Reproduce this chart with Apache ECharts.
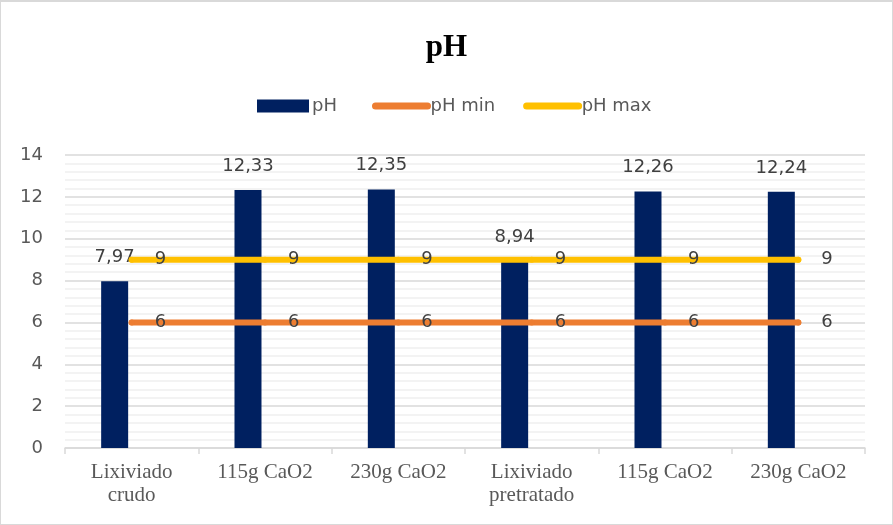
<!DOCTYPE html>
<html><head><meta charset="utf-8">
<script src="https://cdn.jsdelivr.net/npm/echarts@6/dist/echarts.min.js"></script>
<style>
html,body{margin:0;padding:0;background:#fff;}
#c{position:absolute;left:0;top:0;width:891px;height:522px;border:1px solid #d9d9d9;border-top:2px solid #d9d9d9;}
</style></head>
<body><div id="c"></div>
<script>
const categories = ['Lixiviado\ncrudo', '115g CaO2', '230g CaO2', 'Lixiviado\npretratado', '115g CaO2', '230g CaO2'];
const phValues = [7.97, 12.33, 12.35, 8.94, 12.26, 12.24];
const phMin = [6, 6, 6, 6, 6, 6];
const phMax = [9, 9, 9, 9, 9, 9];
const yTicks = { min: 0, max: 14, interval: 2 };

const fmt = p => String(p.value).replace('.', ',');
const sans = 'DejaVu Sans';
const legendText = { fontFamily: sans, fontSize: 18, color: '#595959', padding: [0,0,0,-2] };
const chart = echarts.init(document.getElementById('c'));
chart.setOption({
  animation: false,
  title: { text: 'pH', left: 'center', top: 25,
    textStyle: { fontFamily: 'Liberation Serif', fontWeight: 'bold', fontSize: 31, color: '#000' } },
  legend: [
    { left: 251, top: 90, itemWidth: 52, itemHeight: 13, textStyle: legendText,
      data: [{ name: 'pH', icon: 'rect' }] },
    { left: 366, top: 90, itemGap: 28, itemWidth: 52, itemHeight: 13, textStyle: legendText,
      lineStyle: { width: 7, cap: 'round' },
      itemStyle: { opacity: 0 },
      data: ['pH min', 'pH max'] }
  ],
  grid: { left: 64, right: 27, top: 153, bottom: 76 },
  xAxis: { type: 'category', data: categories,
    axisLine: { lineStyle: { color: '#d9d9d9', width: 1.5 } },
    axisTick: { show: true, length: 6, lineStyle: { color: '#d9d9d9', width: 1.5 } },
    axisLabel: { fontFamily: 'Liberation Serif', fontSize: 21, color: '#595959', margin: 13, lineHeight: 23, interval: 0 } },
  yAxis: { type: 'value', min: yTicks.min, max: yTicks.max, interval: yTicks.interval,
    axisLabel: { fontFamily: sans, fontSize: 18, color: '#595959', margin: 22 },
    splitLine: { lineStyle: { color: '#d9d9d9', width: 1.5 } },
    minorTick: { show: false, splitNumber: 5 },
    minorSplitLine: { show: true, lineStyle: { color: '#f0f0f0', width: 1.5 } } },
  series: [
    { name: 'pH', type: 'bar', data: phValues, barWidth: 27, barGap: '26%',
      itemStyle: { color: '#002060' },
      label: { show: true, position: 'top', distance: 15, formatter: fmt,
        fontFamily: sans, fontSize: 18, color: '#404040' }, z: 2 },
    { name: '_spacer', type: 'bar', data: phValues.map(() => null), barWidth: 27, silent: true },
    { name: 'pH min', type: 'line', data: phMin, symbol: 'circle', symbolSize: 6, showSymbol: true, z: 3,
      lineStyle: { color: '#ED7D31', width: 6, cap: 'round' }, itemStyle: { color: '#ED7D31' },
      label: { show: true, position: 'right', distance: 20, formatter: fmt,
        fontFamily: sans, fontSize: 18, color: '#404040' } },
    { name: 'pH max', type: 'line', data: phMax, symbol: 'circle', symbolSize: 6, showSymbol: true, z: 3,
      lineStyle: { color: '#FFC000', width: 6, cap: 'round' }, itemStyle: { color: '#FFC000' },
      label: { show: true, position: 'right', distance: 20, formatter: fmt,
        fontFamily: sans, fontSize: 18, color: '#404040' } }
  ]
});
</script></body></html>
